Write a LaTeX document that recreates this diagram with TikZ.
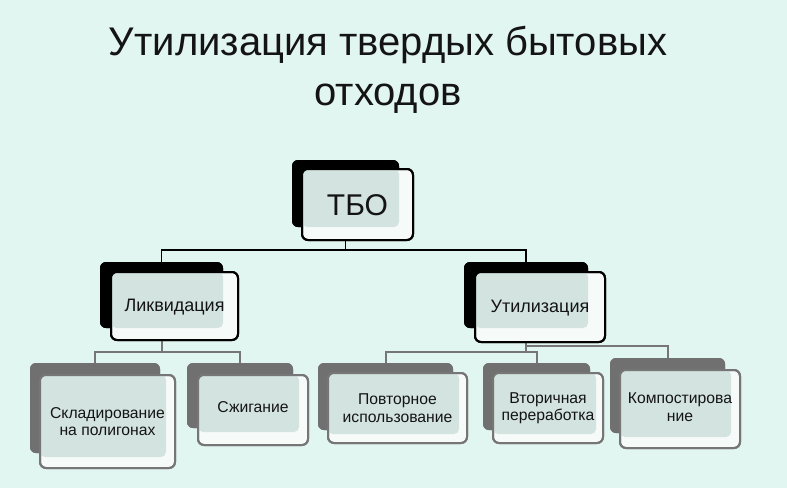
\documentclass[tikz,border=0pt]{standalone}
\usepackage{fontspec}
\setmainfont{Liberation Sans}
\definecolor{bgc}{RGB}{226,246,241}
\definecolor{fillc}{RGB}{211,227,223}
\definecolor{frontc}{RGB}{246,251,249}
\definecolor{darkg}{RGB}{112,112,112}
\definecolor{lineg}{RGB}{118,118,118}
\definecolor{txtc}{RGB}{20,20,20}
\tikzset{
  box/.style={inner sep=0pt, outer sep=0pt, rounded corners=6pt, anchor=north west},
  backA/.style={box, fill=black},
  backB/.style={box, fill=darkg},
  frontA/.style={box, fill=frontc, draw=black, line width=2pt},
  frontB/.style={box, fill=frontc, draw=lineg, line width=2pt},
  shadefill/.style={fill=fillc, rounded corners=5pt},
  lineA/.style={draw=black, line width=1.5pt},
  lineB/.style={draw=lineg, line width=2pt},
  outA/.style={draw=black, line width=2pt, rounded corners=6pt},
  outB/.style={draw=lineg, line width=2pt, rounded corners=6pt},
  txt/.style={align=center, inner sep=0pt, text=txtc},
}
\begin{document}
\begin{tikzpicture}[x=1pt,y=-1pt]
\useasboundingbox (0,0) rectangle (787,488);
\fill[bgc] (0,0) rectangle (787,488);

% title
\node[anchor=base, inner sep=0pt, text=txtc, font=\fontsize{40}{48}\selectfont] (t1) at (388,55) {Утилизация твердых бытовых};
\node[anchor=base, inner sep=0pt, text=txtc, font=\fontsize{40}{48}\selectfont] (t2) at (388,105) {отходов};

% back boxes
\node[backA, minimum width=107pt, minimum height=67pt] (tboB) at (292,160) {};
\node[backA, minimum width=123pt, minimum height=66pt] (likB) at (100,262) {};
\node[backA, minimum width=124pt, minimum height=66pt] (utiB) at (464,262) {};
\node[backB, minimum width=130pt, minimum height=90pt] (sklB) at (30,363) {};
\node[backB, minimum width=106pt, minimum height=65pt] (szhB) at (187,363) {};
\node[backB, minimum width=135pt, minimum height=67pt] (povB) at (318,363) {};
\node[backB, minimum width=107pt, minimum height=67pt] (vtoB) at (483,363) {};
\node[backB, minimum width=115pt, minimum height=75pt] (komB) at (610,358) {};

% connectors (drawn under boxes)
\draw[lineA] (tboB.center) -- (tboB.center |- 0,250) -| (likB.north);
\draw[lineA] (tboB.center |- 0,250) -| (utiB.north);
\draw[lineB] (likB.center) -- (likB.center |- 0,352) -| (sklB.north);
\draw[lineB] (likB.center |- 0,352) -| (szhB.north);
\draw[lineB] (utiB.center) -- (utiB.center |- 0,352) -| (povB.north);
\draw[lineB] (utiB.center |- 0,352) -| (vtoB.north);
\draw[lineB] (utiB.center |- 0,346) -| (komB.north);

% redraw back boxes above connectors
\node[backA, minimum width=107pt, minimum height=67pt] at (292,160) {};
\node[backA, minimum width=123pt, minimum height=66pt] at (100,262) {};
\node[backA, minimum width=124pt, minimum height=66pt] at (464,262) {};
\node[backB, minimum width=130pt, minimum height=90pt] at (30,363) {};
\node[backB, minimum width=106pt, minimum height=65pt] at (187,363) {};
\node[backB, minimum width=135pt, minimum height=67pt] at (318,363) {};
\node[backB, minimum width=107pt, minimum height=67pt] at (483,363) {};
\node[backB, minimum width=115pt, minimum height=75pt] at (610,358) {};

% front boxes
\node[frontA, minimum width=111pt, minimum height=71pt] (tbo) at (302,169) {};
\fill[shadefill] (tbo.north west) rectangle (tboB.south east);
\draw[outA] (tbo.north west) rectangle (tbo.south east);

\node[frontA, minimum width=127pt, minimum height=68pt] (lik) at (111,272) {};
\fill[shadefill] (lik.north west) rectangle (likB.south east);
\draw[outA] (lik.north west) rectangle (lik.south east);

\node[frontA, minimum width=130pt, minimum height=70pt] (uti) at (475,272) {};
\fill[shadefill] (uti.north west) rectangle (utiB.south east);
\draw[outA] (uti.north west) rectangle (uti.south east);

\node[frontB, minimum width=135pt, minimum height=93pt] (skl) at (40,375) {};
\fill[shadefill] (skl.north west) rectangle ([shift={(6,4)}]sklB.south east);
\draw[outB] (skl.north west) rectangle (skl.south east);

\node[frontB, minimum width=110pt, minimum height=70pt] (szh) at (198,375) {};
\fill[shadefill] (szh.north west) rectangle ([shift={(6,4)}]szhB.south east);
\draw[outB] (szh.north west) rectangle (szh.south east);

\node[frontB, minimum width=139pt, minimum height=70pt] (pov) at (328,373) {};
\fill[shadefill] (pov.north west) rectangle ([shift={(6,4)}]povB.south east);
\draw[outB] (pov.north west) rectangle (pov.south east);

\node[frontB, minimum width=110pt, minimum height=70pt] (vto) at (493,373) {};
\fill[shadefill] (vto.north west) rectangle ([shift={(6,4)}]vtoB.south east);
\draw[outB] (vto.north west) rectangle (vto.south east);

\node[frontB, minimum width=120pt, minimum height=78pt] (kom) at (620,370) {};
\fill[shadefill] (kom.north west) rectangle ([shift={(6,4)}]komB.south east);
\draw[outB] (kom.north west) rectangle (kom.south east);

% texts
\node[txt, font=\fontsize{30}{34}\selectfont] (tboT) at ([yshift=-1pt]tbo.center) {ТБО};
\node[txt, font=\fontsize{18}{20}\selectfont] (likT) at ([yshift=-1pt]lik.center) {Ликвидация};
\node[txt, font=\fontsize{18}{20}\selectfont] (utiT) at ([yshift=-1pt]uti.center) {Утилизация};
\node[txt, font=\fontsize{15.7}{17.5}\selectfont] (sklT) at (skl.center) {Складирование\\на полигонах};
\node[txt, font=\fontsize{15.7}{17.5}\selectfont] (szhT) at ([yshift=3pt]szh.center) {Сжигание};
\node[txt, font=\fontsize{15.7}{17.5}\selectfont] (povT) at (pov.center) {Повторное\\использование};
\node[txt, font=\fontsize{15.7}{17.5}\selectfont] (vtoT) at (vto.center) {Вторичная\\переработка};
\node[txt, font=\fontsize{15.7}{17.5}\selectfont] (komT) at ([yshift=2pt]kom.center) {Компостирова\\ние};
\end{tikzpicture}
\end{document}
